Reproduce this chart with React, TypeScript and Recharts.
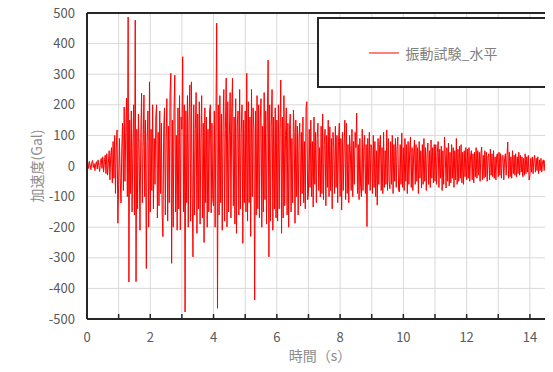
import { LineChart, Line, XAxis, YAxis, CartesianGrid, Legend, ReferenceLine } from 'recharts'

// 加速度 (Gal), 40 samples per second, one array per second of record
const s00 = [5, 12, -8, 15, 3, -12, 10, 18, -5, 8, -15, 6, 14, -10, 20, 2, -18, 12, 25, -8, 30, -20, 15, 35, -25, 40, -30, 10, 50, -45, 35, 60, -55, 80, -40, 100, -90, 60, 118, -187]
const s01 = [-60, 90, -40, -121, 60, 140, -80, 193, -50, 110, 222, -100, 487, -379, 150, -90, 180, -150, 60, 200, -160, 477, -378, 120, -140, 170, 40, -210, 90, 238, -120, 60, 232, -100, 150, -335, 80, 180, -200, 275]
const s02 = [-150, 120, -80, 200, -140, 90, -60, 160, 200, -170, 110, -130, 180, -90, 140, -155, -231, 120, 190, -160, 80, 220, -180, 130, -120, 240, 303, -318, 150, -200, 180, 297, -150, 100, -210, 190, -140, 230, -209, 160]
const s03 = [120, 357, -150, 200, -477, 180, -120, 230, -200, 150, 265, -180, 275, -90, -297, 200, -160, 120, 240, -220, 170, -140, 210, -190, 100, 230, -170, 140, -250, 190, -120, 160, -200, 120, -150, 180, 200, -153, 140, -110]
const s04 = [-130, 180, -200, 150, 467, -465, 200, -160, 230, -120, 170, -210, 140, 250, -180, 120, 287, -199, 210, -150, 100, 240, -170, 190, 287, -130, 160, -190, 220, -220, 130, 180, -160, 250, -140, 110, 200, -253, 150, -120]
const s05 = [180, -150, 303, -180, 210, -120, 160, -230, 250, -100, 190, 120, -438, 180, -160, 230, -140, 200, -170, 150, 220, -200, 130, -150, 240, -110, 180, -190, 150, 346, -297, 200, -180, 130, 250, -210, 160, -140, 190, -170]
const s06 = [150, -180, 200, -140, 120, 281, -220, 160, -170, 230, -130, 100, 190, -160, 140, -200, 120, 170, -150, 90, -120, 183, 110, -187, 150, -100, 130, -160, 90, 140, -130, 110, -90, 160, -120, 80, -140, 193, 210, -110]
const s07 = [-90, 120, -70, 150, -100, 80, -134, 160, -60, 110, -120, 90, 140, -80, 60, -101, 130, -90, 170, -110, 70, 120, -130, 100, -70, 150, -100, 128, -80, 90, -140, 110, 60, -90, 130, -70, 100, -120, 80, 140]
const s08 = [-100, 90, -144, 110, -80, 60, 150, -110, 140, -90, 70, -120, 100, 50, -80, 120, -100, 80, -60, 110, 60, 173, -90, 70, -110, 90, -70, -100, 120, -80, 60, 100, -90, 70, -198, 90, -60, 110, -80, 70]
const s09 = [60, -90, 100, -70, 80, -100, 50, -128, 90, -60, 70, 100, -80, 60, -90, 110, -70, 50, -60, 118, -80, 90, -50, -74, 80, -60, 100, -90, 70, -50, 90, -70, 60, 95, -80, -85, 70, -60, 108, -70]
const s10 = [60, -80, 90, -50, 70, -90, 80, -60, 50, 95, -70, 60, -80, 40, 85, -60, 70, -50, 60, -90, 80, -40, 50, -72, 70, -60, 90, -50, 60, -80, 40, 75, -60, 50, -70, 85, -40, 60, -55, 70]
const s11 = [-50, 70, -60, 45, 80, -70, 55, -40, 65, -80, 50, -60, 95, 40, -72, 60, -50, 75, -65, 45, -55, 70, -40, 60, -70, 50, -45, 90, -60, 55, -50, 65, -40, 70, -55, 45, -60, 50, -35, 60]
const s12 = [-45, 55, -40, 60, -50, 35, 50, -45, 40, -55, 45, -35, 60, -40, 50, -30, 45, -50, 40, 62, -45, 35, -40, 50, -35, 45, -50, 30, 40, -45, 55, -30, 40, -35, 50, -40, 30, -45, 35, 40]
const s13 = [-35, 45, -30, 40, -40, 30, 35, -45, 25, 40, -30, 35, 78, -40, 45, -35, 30, -40, 50, -25, 35, -30, 40, -35, 30, -25, 45, -30, 35, -20, 30, -35, 25, -30, 40, -25, 30, -20, 35, -46]
const s14 = [-30, 25, -20, 30, -25, 20, 35, -20, 25, -15, 30, -25, 20, -15, 25, -20, 15, 20, -15, 18, -12, 15, -18, 12, 15, -10, 14, -12, 10]

const SAMPLES_PER_SEC = 40
const seconds = [s00, s01, s02, s03, s04, s05, s06, s07, s08, s09, s10, s11, s12, s13, s14]

const X_TICKS = [0, 1, 2, 3, 4, 5, 6, 7, 8, 9, 10, 11, 12, 13, 14]
const Y_TICKS = [-500, -400, -300, -200, -100, 0, 100, 200, 300, 400, 500]

const SERIES_NAME = '振動試験_水平'

const data = seconds.flatMap((vals, s) =>
  vals.map((v, i) => ({ t: s + i / SAMPLES_PER_SEC, acc: v }))
)

const FONT = "'Noto Sans CJK JP', 'Noto Sans', sans-serif"
const BORDER = '#262626'

function XTick({ x, y, payload }: any) {
  return (
    <g>
      <line x1={x} x2={x} y1={y - 5} y2={y} stroke={BORDER} strokeWidth={1.5} />
      {payload.value % 2 === 0 && (
        <text x={x} y={y + 23} textAnchor="middle" fontSize={13} fill="#595959">
          {payload.value}
        </text>
      )}
    </g>
  )
}

function LegendBox({ payload }: any) {
  const item = payload?.[0]
  return (
    <div
      style={{
        width: 232,
        height: 71,
        boxSizing: 'border-box',
        border: `2px solid ${BORDER}`,
        background: '#fff',
        display: 'flex',
        alignItems: 'center',
        justifyContent: 'center',
      }}
    >
      <svg width={30} height={4} style={{ marginRight: 7 }}>
        <line x1={0} x2={30} y1={2} y2={2} stroke="#ff0000" strokeWidth={1} />
      </svg>
      <span style={{ fontSize: 14, color: '#7f7f7f' }}>{item?.value}</span>
    </div>
  )
}

export default function App() {
  return (
    <div style={{ width: 545, height: 361, marginTop: -5, fontFamily: FONT, background: '#fff' }}>
      <LineChart width={545} height={361} data={data} margin={{ top: 10, right: 0, bottom: 0, left: 19 }}>
        <CartesianGrid stroke="#d9d9d9" />
        <XAxis
          type="number"
          dataKey="t"
          domain={[0, 14.73]}
          ticks={X_TICKS}
          allowDataOverflow
          height={45}
          tickSize={0}
          tickMargin={0}
          tick={<XTick />}
          axisLine={{ stroke: BORDER, strokeWidth: 2 }}
          label={{ value: '時間（s）', position: 'insideBottom', offset: 3, fill: '#8c8c8c', fontSize: 14 }}
        />
        <YAxis
          type="number"
          domain={[-500, 500]}
          ticks={Y_TICKS}
          width={60}
          tickSize={0}
          tickMargin={12}
          tick={{ fontSize: 13, fill: '#595959' }}
          axisLine={{ stroke: BORDER, strokeWidth: 2 }}
          label={{
            value: '加速度(Gal)',
            angle: -90,
            position: 'insideLeft',
            offset: 10,
            fill: '#8c8c8c',
            fontSize: 14,
            style: { textAnchor: 'middle' },
          }}
        />
        <ReferenceLine y={500} stroke={BORDER} strokeWidth={2} />
        <Legend
          layout="horizontal"
          verticalAlign="middle"
          align="center"
          content={<LegendBox />}
          wrapperStyle={{ left: 309, top: 14, width: 232, height: 71 }}
        />
        <Line
          type="linear"
          dataKey="acc"
          name={SERIES_NAME}
          stroke="#ff0000"
          strokeWidth={1}
          dot={false}
          isAnimationActive={false}
        />
      </LineChart>
    </div>
  )
}
